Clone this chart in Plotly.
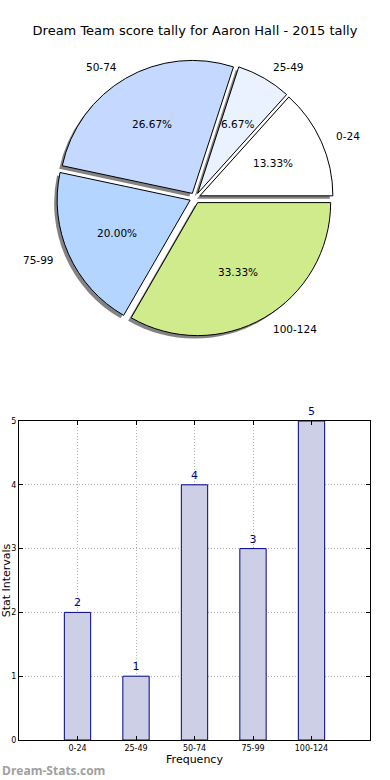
import math
import plotly.graph_objects as go

# ---- data ----
categories = ["0-24", "25-49", "50-74", "75-99", "100-124"]
counts = [2, 1, 4, 3, 5]
pie_colors = ["#ffffff", "#eaf1ff", "#c5d8ff", "#b4d5ff", "#d0eb8b"]
title_text = "Dream Team score tally for Aaron Hall - 2015 tally"
bar_ticks = [0, 1, 2, 3, 4, 5]

W, H = 390, 780
PULL = 0.04
# pie geometry (pixels)
CX, CY, R = 195, 198, 133
box = 2 * R * (1 + PULL)
dom_x = [(CX - box / 2) / W, (CX + box / 2) / W]
dom_y = [1 - (CY + box / 2) / H, 1 - (CY - box / 2) / H]
SH = 3  # shadow offset px
sh_x = [dom_x[0] - SH / W, dom_x[1] - SH / W]
sh_y = [dom_y[0] - SH / H, dom_y[1] - SH / H]

total = sum(counts)
# first slice starts at 3 o'clock and runs counterclockwise
ROT = 90 - 360.0 * counts[0] / total

fig = go.Figure()

# shadow
fig.add_trace(go.Pie(
    labels=categories, values=counts, sort=False, direction="counterclockwise",
    rotation=ROT, pull=[PULL] * len(counts),
    marker=dict(colors=["rgba(90,90,90,0.75)"] * len(counts), line=dict(width=0)),
    textinfo="none", hoverinfo="skip", showlegend=False,
    domain=dict(x=sh_x, y=sh_y),
))
# main pie
fig.add_trace(go.Pie(
    labels=categories, values=counts, sort=False, direction="counterclockwise",
    rotation=ROT, pull=[PULL] * len(counts),
    marker=dict(colors=pie_colors, line=dict(color="#000000", width=1)),
    textinfo="none", hoverinfo="label+percent",
    showlegend=False,
    domain=dict(x=dom_x, y=dom_y),
))

# labels (matplotlib style: labeldistance 1.1, pctdistance 0.6)
lab_font = dict(family="DejaVu Sans", size=10.5, color="#000000")
start = 0.0
for lab, v in zip(categories, counts):
    ang = start + 360.0 * v / total / 2
    start += 360.0 * v / total
    a = math.radians(ang)
    ox = CX + PULL * R * math.cos(a)
    oy = CY - PULL * R * math.sin(a)
    lx = ox + 1.1 * R * math.cos(a)
    ly = oy - 1.1 * R * math.sin(a)
    fig.add_annotation(
        x=lx / W, y=1 - ly / H, xref="paper", yref="paper",
        text=lab, showarrow=False,
        xanchor="left" if math.cos(a) > 0 else "right", yanchor="middle",
        font=lab_font,
    )
    px = ox + 0.6 * R * math.cos(a)
    py = oy - 0.6 * R * math.sin(a)
    fig.add_annotation(
        x=px / W, y=1 - py / H, xref="paper", yref="paper",
        text=f"{100.0 * v / total:.2f}%", showarrow=False,
        xanchor="center", yanchor="middle", font=lab_font,
    )

# bar chart
fig.add_trace(go.Bar(
    x=categories, y=counts, width=0.45,
    marker=dict(color="#cdcfe6", line=dict(color="#00008b", width=1)),
    texttemplate="%{y}", textposition="outside", cliponaxis=False,
    textfont=dict(family="DejaVu Sans", size=11, color="#00008b"),
    showlegend=False, hoverinfo="x+y",
    xaxis="x", yaxis="y",
))

axis_common = dict(
    showline=True, linecolor="#000000", linewidth=1, mirror="ticks",
    ticks="inside", ticklen=4, tickcolor="#000000",
    showgrid=True, gridcolor="#b0b0b0", griddash="1px,2px", gridwidth=1,
    zeroline=False, automargin=False,
    tickfont=dict(family="DejaVu Sans", size=8, color="#000000"),
)

fig.update_layout(
    width=W, height=H,
    margin=dict(l=0, r=0, t=0, b=0),
    paper_bgcolor="#ffffff", plot_bgcolor="#ffffff",
    title=dict(text=title_text, x=0.5, xanchor="center", y=1 - 30 / H,
               yref="container", yanchor="middle",
               font=dict(family="DejaVu Sans", size=13, color="#000000")),
    xaxis=dict(domain=[19 / W, 370 / W], anchor="y", type="category",
               range=[-1, 5],
               title=dict(text="Frequency", standoff=2,
                          font=dict(family="DejaVu Sans", size=11, color="#000000")),
               **axis_common),
    yaxis=dict(domain=[1 - 740 / H, 1 - 421 / H], anchor="x", range=[0, 5],
               tickvals=bar_ticks,
               title=dict(text="Stat Intervals", standoff=4,
                          font=dict(family="DejaVu Sans", size=11, color="#000000")),
               **axis_common),
    showlegend=False,
)

fig.add_annotation(
    x=0, y=1 - 770 / H, xref="paper", yref="paper", text="<b>Dream-Stats.com</b>",
    showarrow=False, xanchor="left", yanchor="middle",
    font=dict(family="Open Sans", size=12, color="#a0a0a0"),
)

fig.write_html(
    "out.html",
    config={"displayModeBar": False},
    post_script="document.body.style.margin='0';"
                "document.documentElement.style.overflow='hidden';"
                "document.body.style.overflow='hidden';",
)
